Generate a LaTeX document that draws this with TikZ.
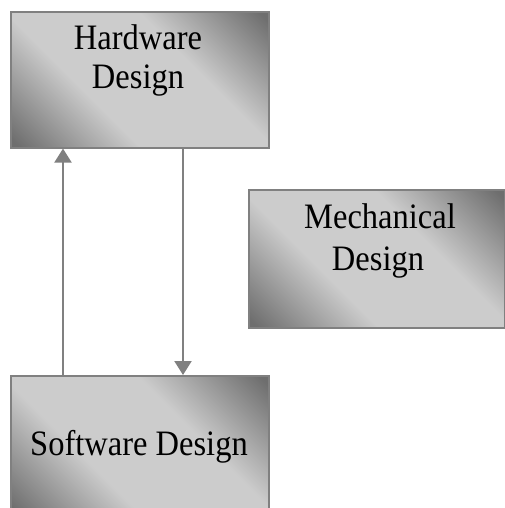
\documentclass[tikz,border=0pt]{standalone}
\usepackage{fontspec}
\setmainfont{Liberation Serif}
\usetikzlibrary{arrows.meta}
\definecolor{gdark}{gray}{0.43}
\definecolor{glight}{gray}{0.80}
\definecolor{edge}{gray}{0.5}
\definecolor{arrowgray}{gray}{0.5}
\pgfdeclarehorizontalshading{diagband}{100bp}{color(0bp)=(gdark); color(16bp)=(gdark); color(38bp)=(glight); color(62bp)=(glight); color(84bp)=(gdark); color(100bp)=(gdark)}
\tikzset{
  box/.style={draw=edge, line width=1.6pt, shading=diagband, shading angle=45, inner sep=0pt, anchor=north west},
  lbl/.style={font=\fontsize{32.5}{40}\selectfont, anchor=base, inner sep=0pt, text=black},
  arr/.style={draw=arrowgray, line width=2.2pt, -{Triangle[width=17pt,length=14pt]}},
}
\begin{document}
\begin{tikzpicture}[x=1pt,y=1pt]
\useasboundingbox (0,0) rectangle (505,-508);
\node[box, minimum width=258pt, minimum height=136pt] (hw) at (10,-11) {};
\node[box, minimum width=256pt, minimum height=138pt] (mech) at (248,-189) {};
\node[box, minimum width=258pt, minimum height=140pt] (sw) at (10,-375) {};
\node[lbl] (hw1) at (138,-50) {\scalebox{1}[1.1]{Hardware}};
\node[lbl] (hw2) at (138,-89) {\scalebox{1}[1.1]{Design}};
\node[lbl] (mech1) at (380,-228) {\scalebox{1}[1.1]{Mechanical}};
\node[lbl] (mech2) at (378,-270) {\scalebox{1}[1.1]{Design}};
\node[lbl] (sw1) at (139,-455) {\scalebox{1}[1.1]{Software Design}};
\draw[arr] ([xshift=53pt]sw.north west) -- ([xshift=53pt]hw.south west);
\draw[arr] ([xshift=173pt]hw.south west) -- ([xshift=173pt]sw.north west);
\end{tikzpicture}
\end{document}
